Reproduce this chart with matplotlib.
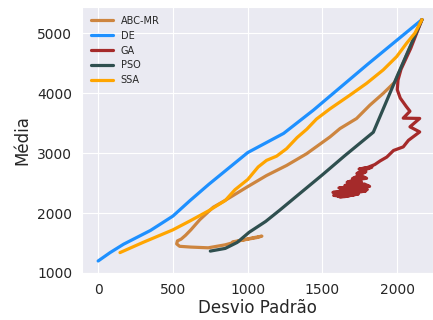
import matplotlib
matplotlib.use('Agg')
import matplotlib.pyplot as plt
import seaborn as sns

# valores (desvio padrao x media)
abc_x = [2165, 1985, 1906, 1817, 1728, 1617, 1550, 1394, 1260, 1126, 993, 847, 769, 680, 620, 585, 555,
         530, 525, 545, 620, 736, 850, 950, 1030, 1095, 1060, 980, 900]
abc_y = [5230, 4190, 3998, 3802, 3579, 3411, 3271, 2991, 2795, 2627, 2431, 2208, 2096, 1890, 1720, 1630, 1565,
         1535, 1485, 1445, 1432, 1420, 1470, 1540, 1585, 1615, 1590, 1555, 1520]

de_x = [0, 80, 170, 350, 500, 615, 740, 1000, 1240, 1440, 1800, 2165]
de_y = [1200, 1340, 1480, 1710, 1950, 2210, 2480, 3010, 3330, 3720, 4480, 5230]

ga_x = [2165, 2090, 2025, 2005, 2000, 2020, 2060, 2085, 2040, 2150, 2085, 2150, 2075, 2040, 1975, 1930, 1885,
        1850, 1800, 1745, 1830, 1760, 1730, 1790, 1745, 1700, 1770, 1795, 1720, 1665, 1760, 1700, 1650,
        1780, 1815, 1700, 1610, 1720, 1800, 1690, 1570, 1680, 1790, 1700, 1575, 1650, 1740, 1620, 1600,
        1700, 1620, 1580]
ga_y = [5230, 4750, 4400, 4220, 4060, 3920, 3780, 3700, 3585, 3580, 3440, 3355, 3215, 3105, 3045, 2935, 2870,
        2810, 2760, 2735, 2765, 2700, 2660, 2690, 2630, 2575, 2610, 2580, 2560, 2515, 2525, 2490, 2460,
        2485, 2445, 2440, 2420, 2410, 2395, 2380, 2345, 2355, 2370, 2330, 2295, 2275, 2320, 2265, 2290,
        2300, 2330, 2320]

pso_x = [2165, 2000, 1840, 1650, 1500, 1350, 1215, 1120, 1010, 930, 850, 750]
pso_y = [5230, 4290, 3350, 2960, 2640, 2330, 2050, 1860, 1680, 1510, 1410, 1365]

ssa_x = [146, 300, 500, 615, 740, 850, 915, 1000, 1070, 1126, 1193, 1260, 1330, 1395, 1460, 1550, 1684,
         1795, 1906, 1996, 2063, 2118, 2165]
ssa_y = [1340, 1510, 1720, 1870, 2040, 2210, 2390, 2560, 2770, 2880, 2950, 3075, 3260, 3400, 3570, 3740, 3970,
         4166, 4390, 4612, 4837, 5005, 5230]

sns.set_style('darkgrid')

fig = plt.figure(figsize=(4.33, 3.2), dpi=100)
ax = fig.add_axes([0.189, 0.147, 0.811, 0.831])

lw = 2.3
ax.plot(abc_x, abc_y, color='peru', lw=lw, label='ABC-MR')
ax.plot(de_x, de_y, color='dodgerblue', lw=lw, label='DE')
ax.plot(ga_x, ga_y, color='brown', lw=lw, label='GA')
ax.plot(pso_x, pso_y, color='darkslategray', lw=lw, label='PSO')
ax.plot(ssa_x, ssa_y, color='orange', lw=lw, label='SSA')

ax.set_xlim(-109, 2239)
ax.set_ylim(1000, 5440)
ax.set_xticks([0, 500, 1000, 1500, 2000])
ax.set_yticks([1000, 2000, 3000, 4000, 5000])
ax.tick_params(labelsize=10, colors='#262626')
ax.set_xlabel('Desvio Padrão', fontsize=12, color='#262626', labelpad=2)
ax.set_ylabel('Média', fontsize=12, color='#262626', labelpad=4)
ax.legend(loc='upper left', fontsize=7, frameon=False, handlelength=2.3)

fig.savefig('out.png', dpi=100)
